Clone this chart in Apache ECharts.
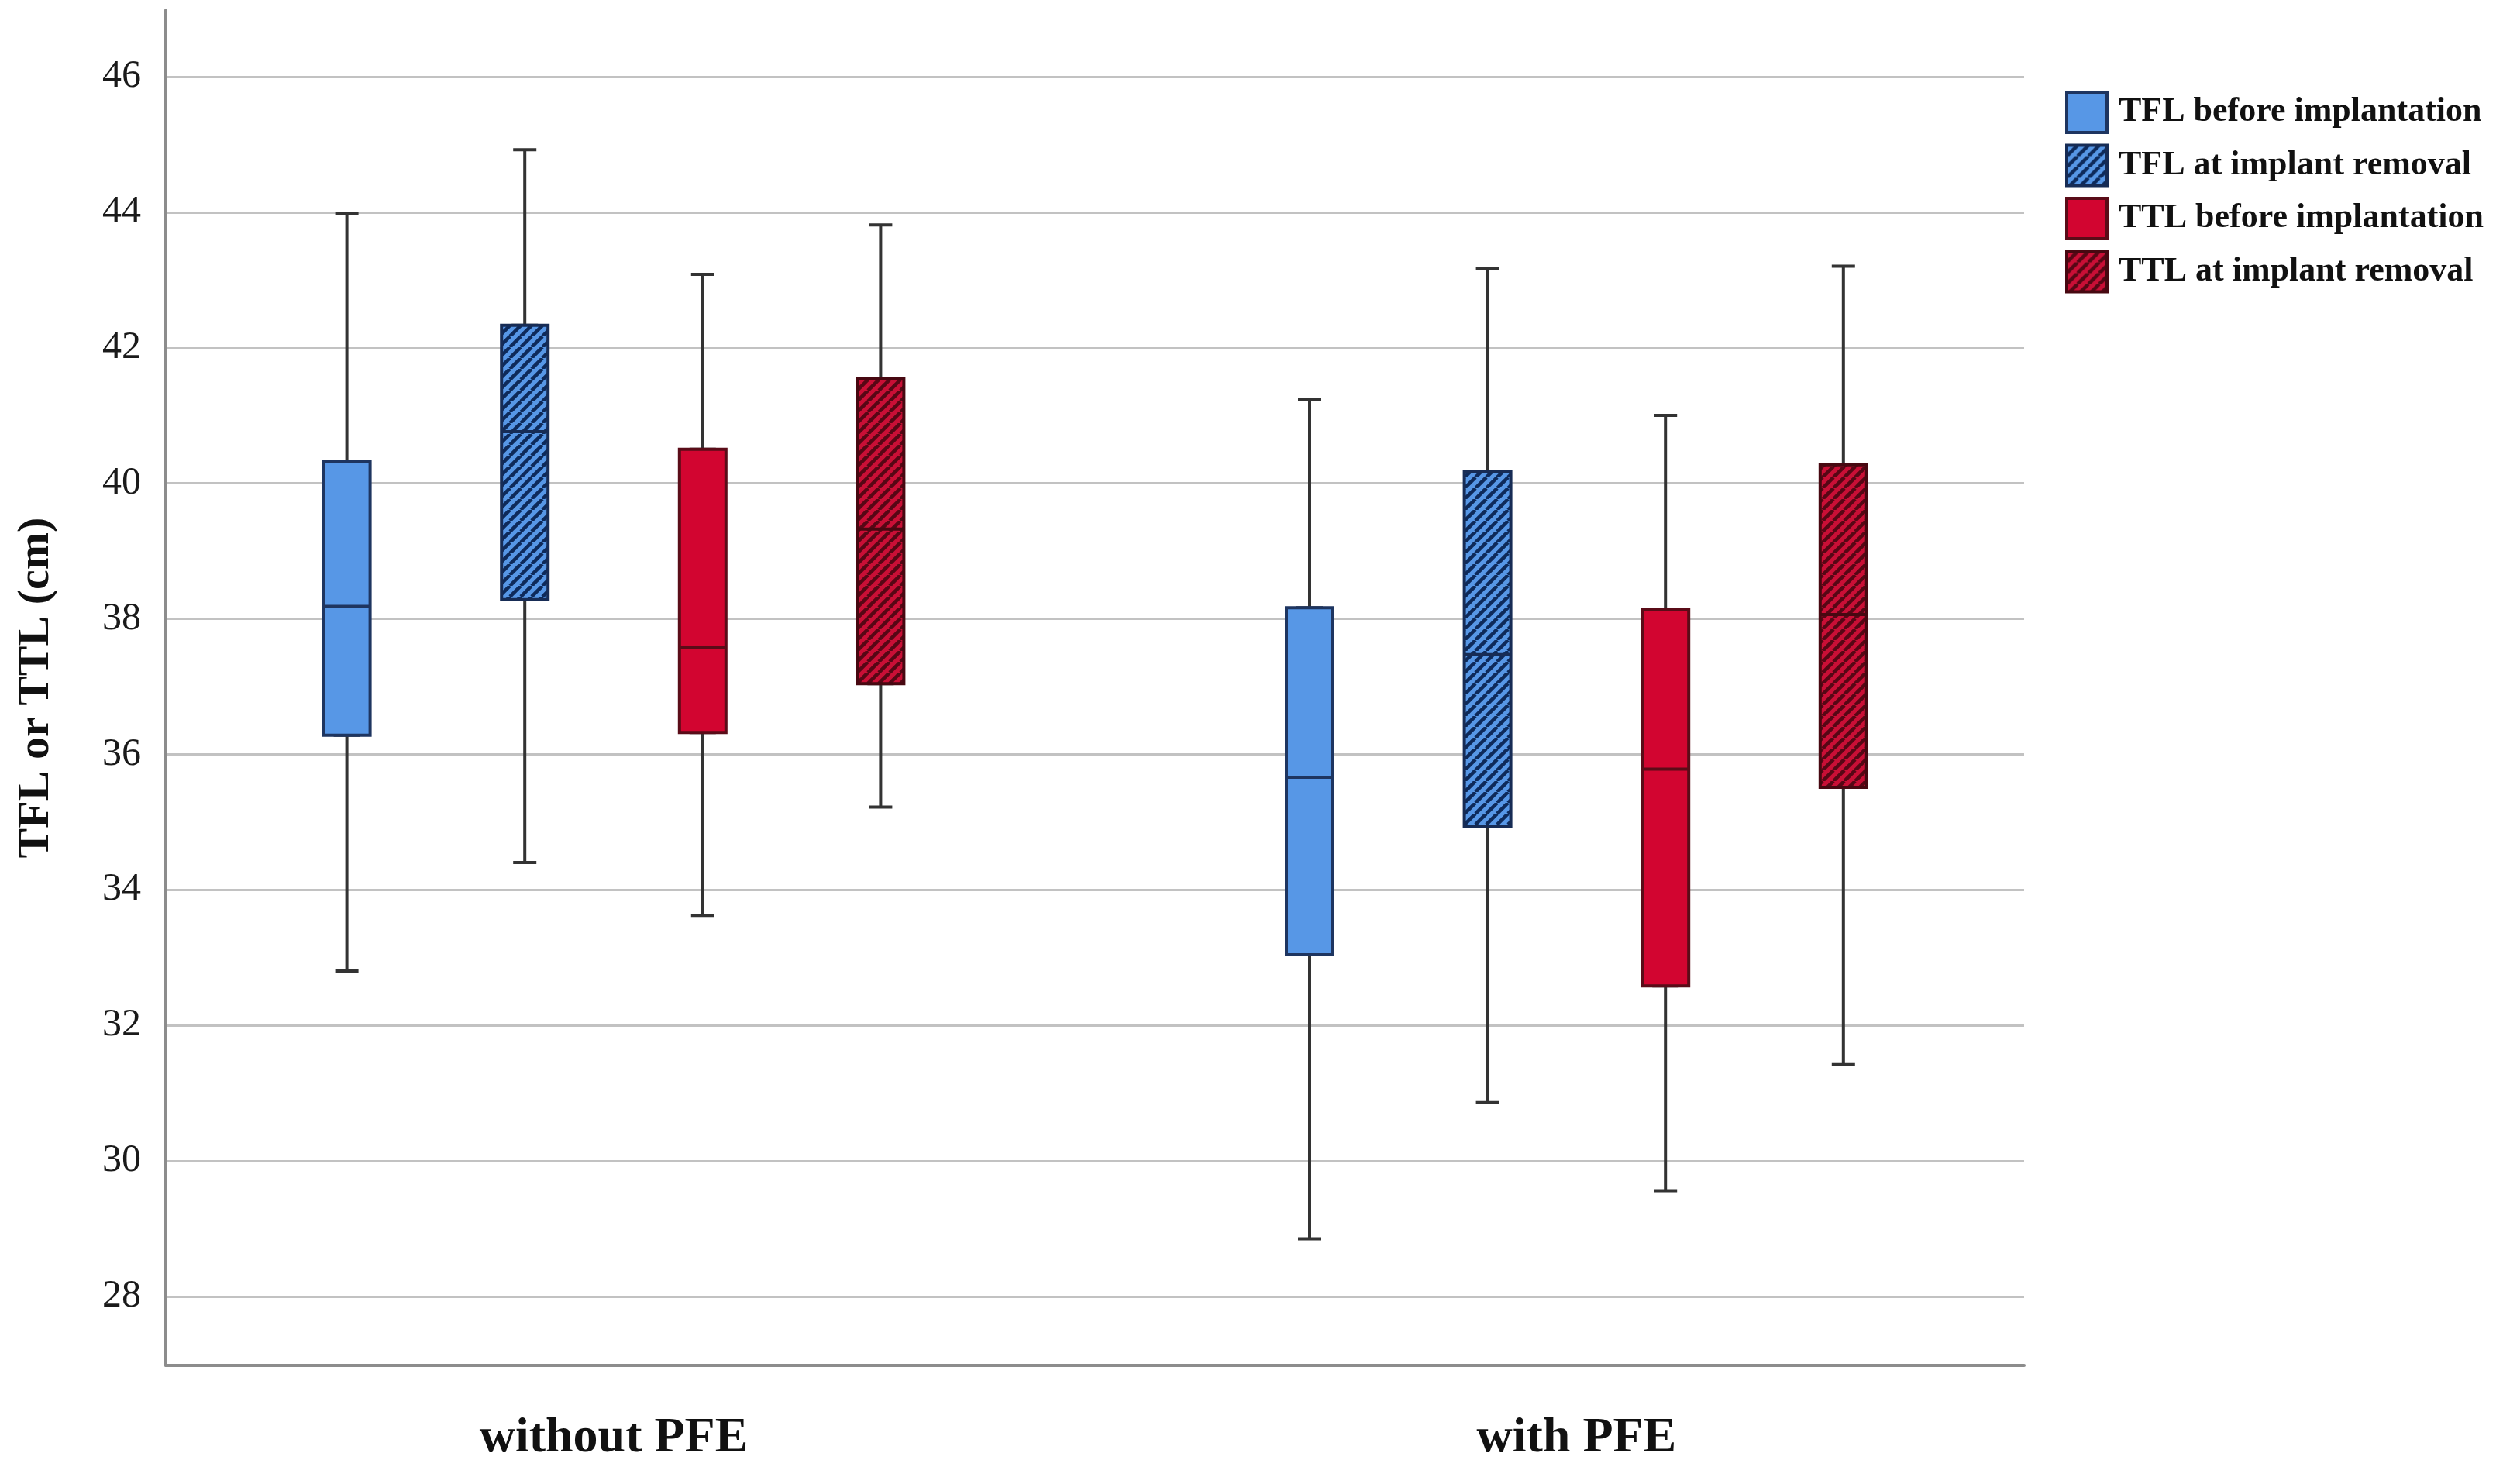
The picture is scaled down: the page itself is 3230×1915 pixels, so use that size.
<!DOCTYPE html>
<html>
<head>
<meta charset="utf-8">
<script src="https://cdn.jsdelivr.net/npm/echarts@6/dist/echarts.min.js"></script>
<style>
html,body{margin:0;padding:0;background:#fff;}
#chart{width:3230px;height:1915px;}
</style>
</head>
<body>
<div id="chart"></div>
<script>
// ---- data (min, Q1, median, Q3, max) ----
const categories = ['without PFE', 'with PFE'];
const seriesNames = ['TFL before implantation', 'TFL at implant removal', 'TTL before implantation', 'TTL at implant removal'];
const tflBefore  = [[32.82, 36.30, 38.20, 40.34, 44.00], [28.87, 33.06, 35.68, 38.18, 41.26]];
const tflRemoval = [[34.42, 38.30, 40.78, 42.35, 44.94], [30.88, 34.96, 37.49, 40.19, 43.18]];
const ttlBefore  = [[33.64, 36.34, 37.60, 40.52, 43.10], [29.58, 32.60, 35.80, 38.15, 41.02]];
const ttlRemoval = [[35.24, 37.06, 39.34, 41.56, 43.83], [31.44, 35.53, 38.08, 40.29, 43.22]];
const yMin = 27, yMax = 47, tickMin = 28, tickMax = 46, tickStep = 2;
const yTitle = 'TFL or TTL (cm)';

// ---- styling ----
const allData = [tflBefore, tflRemoval, ttlBefore, ttlRemoval];
function hatch(bg, line) {
  const N = 14;
  const c = document.createElement('canvas');
  c.width = N; c.height = N;
  const ctx = c.getContext('2d');
  ctx.fillStyle = bg; ctx.fillRect(0, 0, N, N);
  ctx.strokeStyle = line; ctx.lineWidth = 4.6;
  ctx.beginPath();
  [-N, 0, N].forEach(o => { ctx.moveTo(o, N); ctx.lineTo(o + N, 0); });
  ctx.stroke();
  return c;
}
const BLUE = '#5797e6', RED = '#d20530';
const fills = [
  BLUE,
  { image: hatch(BLUE, '#0e2a5a'), repeat: 'repeat' },
  RED,
  { image: hatch('#c90f36', '#560715'), repeat: 'repeat' }
];
const borders = ['#1e3560', '#172c55', '#5a0c18', '#470811'];

const gridTop = 13, gridH = 1749, plotLeft = 214, plotRight = 2612;
const box0 = 447.6, boxStep = 229.6, groupStep = 1242.4;
const font = 'Liberation Serif';

const grids = [
  { left: plotLeft, top: gridTop, width: plotRight - plotLeft, height: gridH },          // frame
  { left: plotLeft, top: 99, width: plotRight - plotLeft, height: 1673 - 99 },            // ticks / grid lines
  { left: box0 + 1.5 * boxStep, top: gridTop, width: groupStep, height: gridH }            // category labels
];
const xAxes = [
  { gridIndex: 0, type: 'value', min: 0, max: 1, axisLine: { show: true, onZero: false, lineStyle: { color: '#8c8c8c', width: 4 } },
    axisTick: { show: false }, axisLabel: { show: false }, splitLine: { show: false } },
  { gridIndex: 1, type: 'value', min: 0, max: 1, show: false },
  { gridIndex: 2, type: 'category', data: categories, boundaryGap: false,
    axisLine: { show: false }, axisTick: { show: false }, splitLine: { show: false },
    axisLabel: { fontFamily: font, fontWeight: 'bold', fontSize: 64, color: '#111', margin: 62 } }
];
const yAxes = [
  { gridIndex: 0, type: 'value', min: yMin, max: yMax,
    axisLine: { show: true, lineStyle: { color: '#8c8c8c', width: 4 } },
    axisTick: { show: false }, axisLabel: { show: false }, splitLine: { show: false },
    name: yTitle, nameLocation: 'middle', nameRotate: 90, nameGap: 138,
    nameTextStyle: { fontFamily: font, fontWeight: 'bold', fontSize: 58, color: '#111' } },
  { gridIndex: 1, type: 'value', min: tickMin, max: tickMax, interval: tickStep,
    axisLine: { show: false }, axisTick: { show: false },
    axisLabel: { fontFamily: font, fontSize: 50, color: '#1a1a1a', margin: 32 },
    splitLine: { show: true, lineStyle: { color: '#c2c2c2', width: 3 } } },
  { gridIndex: 2, type: 'value', min: yMin, max: yMax, show: false }
];
const series = [];
for (let k = 0; k < 4; k++) {
  const g = grids.length;
  grids.push({ left: box0 + k * boxStep, top: gridTop, width: groupStep, height: gridH });
  const xi = xAxes.length;
  xAxes.push({ gridIndex: g, type: 'category', data: categories, boundaryGap: false, show: false });
  xAxes.push({ gridIndex: g, type: 'category', data: categories, boundaryGap: false, show: false });
  const yi = yAxes.length;
  yAxes.push({ gridIndex: g, type: 'value', min: yMin, max: yMax, show: false });
  // whiskers with short caps
  series.push({
    name: 'whisker' + k, type: 'boxplot', xAxisIndex: xi, yAxisIndex: yi,
    boxWidth: [30, 30], silent: true,
    itemStyle: { color: 'rgba(0,0,0,0)', borderColor: '#333333', borderWidth: 4 },
    emphasis: { disabled: true },
    data: allData[k]
  });
  // box
  series.push({
    name: seriesNames[k], type: 'boxplot', xAxisIndex: xi + 1, yAxisIndex: yi,
    boxWidth: [60, 60], silent: true,
    itemStyle: { color: fills[k], borderColor: borders[k], borderWidth: 4 },
    emphasis: { disabled: true },
    data: allData[k].map(d => [d[1], d[1], d[2], d[3], d[3]])
  });
}

const chart = echarts.init(document.getElementById('chart'));
chart.setOption({
  animation: false,
  backgroundColor: '#fff',
  grid: grids,
  xAxis: xAxes,
  yAxis: yAxes,
  legend: {
    data: seriesNames.map((n, k) => ({
      name: n,
      itemStyle: { color: fills[k], borderColor: borders[k], borderWidth: 4 }
    })),
    orient: 'vertical', left: 2665, top: 117,
    icon: 'rect', itemWidth: 52, itemHeight: 52, itemGap: 12.5, padding: 0,
    selectedMode: false,
    textStyle: { fontFamily: font, fontWeight: 'bold', fontSize: 44, color: '#111', padding: [0, 0, 0, 10] }
  },
  series: series
});
</script>
</body>
</html>
